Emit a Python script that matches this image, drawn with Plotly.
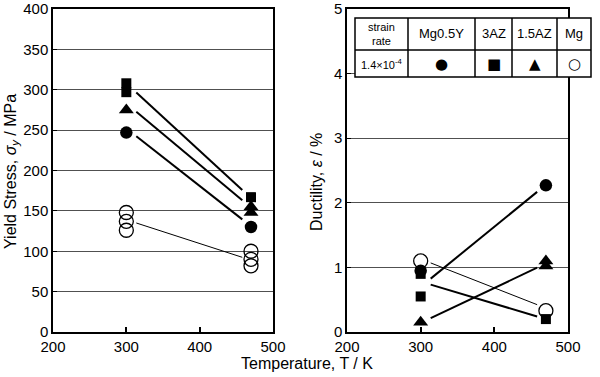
import plotly.graph_objects as go

W, H = 600, 377
FONT = "Liberation Sans, Arial, sans-serif"

# ---------------- data ----------------
temps = [300, 470]                     # test temperatures, K
series_names = ["Mg", "Mg0.5Y", "3AZ", "1.5AZ"]

# Yield stress (MPa): points at 300 K and 470 K
ys_mg_300 = [148, 137, 126]
ys_mg_470 = [100, 90, 82]
ys_mg05y_300 = [247]
ys_mg05y_470 = [130]
ys_3az_300 = [308, 297]
ys_3az_470 = [167]
ys_15az_300 = [275]
ys_15az_470 = [155, 148]
# trend lines (values at 300 K / 470 K)
ys_line_mg = [139, 89]
ys_line_mg05y = [252, 131]
ys_line_3az = [308, 166]
ys_line_15az = [283, 154]

# Ductility (%): points at 300 K and 470 K
du_mg_300 = [1.1]
du_mg_470 = [0.33]
du_mg05y_300 = [0.95]
du_mg05y_470 = [2.27]
du_3az_300 = [0.9, 0.55]
du_3az_470 = [0.2]
du_15az_300 = [0.15]
du_15az_470 = [1.1, 1.02]
# trend lines (values at 300 K / 470 K)
du_line_mg = [1.13, 0.37]
du_line_mg05y = [0.70, 2.28]
du_line_3az = [0.78, 0.20]
du_line_15az = [0.14, 1.06]

x_ticks = [200, 300, 400, 500]
ys_ticks = [0, 50, 100, 150, 200, 250, 300, 350, 400]
du_ticks = [0, 1, 2, 3, 4, 5]

table_header = ["strain<br>rate", "Mg0.5Y", "3AZ", "1.5AZ", "Mg"]
table_row = ["1.4×10<sup>-4</sup>", "●", "■", "▲", "○"]

# ---------------- styles ----------------
marker_style = {
    "Mg": dict(symbol="circle-open", size=14, color="black", line=dict(width=1.3, color="black")),
    "Mg0.5Y": dict(symbol="circle", size=12.5, color="black"),
    "3AZ": dict(symbol="square", size=10, color="black"),
    "1.5AZ": dict(symbol="triangle-up", size=13, color="black"),
}
line_width = {"Mg": 1.0, "Mg0.5Y": 2.0, "3AZ": 2.0, "1.5AZ": 2.0}

ys_points = {"Mg": (ys_mg_300, ys_mg_470), "Mg0.5Y": (ys_mg05y_300, ys_mg05y_470),
             "3AZ": (ys_3az_300, ys_3az_470), "1.5AZ": (ys_15az_300, ys_15az_470)}
ys_lines = {"Mg": ys_line_mg, "Mg0.5Y": ys_line_mg05y, "3AZ": ys_line_3az, "1.5AZ": ys_line_15az}
du_points = {"Mg": (du_mg_300, du_mg_470), "Mg0.5Y": (du_mg05y_300, du_mg05y_470),
             "3AZ": (du_3az_300, du_3az_470), "1.5AZ": (du_15az_300, du_15az_470)}
du_lines = {"Mg": du_line_mg, "Mg0.5Y": du_line_mg05y, "3AZ": du_line_3az, "1.5AZ": du_line_15az}

F0, F1 = 0.08, 0.93   # line gap near markers (fraction of segment)

fig = go.Figure()


def add_panel(points, lines, xa, ya):
    for name in series_names:
        lv = lines[name]
        t0, t1 = temps
        xs = [t0 + F0 * (t1 - t0), t0 + F1 * (t1 - t0)]
        yv = [lv[0] + F0 * (lv[1] - lv[0]), lv[0] + F1 * (lv[1] - lv[0])]
        fig.add_trace(go.Scatter(x=xs, y=yv, mode="lines", xaxis=xa, yaxis=ya,
                                 line=dict(color="black", width=line_width[name]),
                                 showlegend=False, hoverinfo="skip"))
    for name in series_names:
        lo, hi = points[name]
        xs = [temps[0]] * len(lo) + [temps[1]] * len(hi)
        fig.add_trace(go.Scatter(x=xs, y=lo + hi, mode="markers", xaxis=xa, yaxis=ya,
                                 marker=marker_style[name], name=name, showlegend=False,
                                 cliponaxis=False))


add_panel(ys_points, ys_lines, "x", "y")
add_panel(du_points, du_lines, "x2", "y2")


def px(x):
    return x / W


def py(y):
    return 1 - y / H


Y_TOP, Y_BOT = 9, 332
common_x = dict(range=[200, 500], tickvals=x_ticks, showline=True, linecolor="black", linewidth=1.5,
                mirror=True, ticks="inside", ticklen=5, tickwidth=1.5, tickcolor="black",
                showgrid=False, zeroline=False, tickfont=dict(family=FONT, size=15, color="black"),
                automargin=False, ticklabeloverflow="allow")
common_y = dict(showline=True, linecolor="black", linewidth=1.5, mirror=True, ticks="inside",
                ticklen=4, tickwidth=1, tickcolor="black", showgrid=True, gridcolor="#505050",
                gridwidth=1, zeroline=False, tickfont=dict(family=FONT, size=15, color="black"),
                automargin=False, ticklabeloverflow="allow")

fig.update_layout(
    width=W, height=H, margin=dict(l=0, r=0, t=0, b=0, autoexpand=False),
    paper_bgcolor="white", plot_bgcolor="white",
    font=dict(family=FONT, size=15, color="black"),
    xaxis=dict(common_x, domain=[px(53), px(273)], anchor="y"),
    yaxis=dict(common_y, domain=[py(Y_BOT), py(Y_TOP)], range=[0, 400], tickvals=ys_ticks, anchor="x"),
    xaxis2=dict(common_x, domain=[px(347), px(568)], anchor="y2"),
    yaxis2=dict(common_y, domain=[py(Y_BOT), py(Y_TOP)], range=[0, 5], tickvals=du_ticks, anchor="x2"),
)

ann = []
ann.append(dict(text="Yield Stress, <i>σ</i><sub><i>y</i></sub> / MPa", x=px(11), y=py(172),
                xref="paper", yref="paper", textangle=-90, showarrow=False,
                xanchor="center", yanchor="middle", font=dict(family=FONT, size=16)))
ann.append(dict(text="Ductility, <i>ε</i> / %", x=px(316), y=py(182),
                xref="paper", yref="paper", textangle=-90, showarrow=False,
                xanchor="center", yanchor="middle", font=dict(family=FONT, size=16)))
ann.append(dict(text="Temperature, T / K", x=px(307), y=py(363),
                xref="paper", yref="paper", showarrow=False,
                xanchor="center", yanchor="middle", font=dict(family=FONT, size=16)))

# legend table
cols = [355, 408, 475, 512, 557, 591]
rows = [18, 50, 77]
shapes = [dict(type="rect", xref="paper", yref="paper", x0=px(cols[0]), x1=px(cols[-1]),
               y0=py(rows[0]), y1=py(rows[-1]), fillcolor="white",
               line=dict(color="black", width=1.5), layer="above")]
shapes.append(dict(type="line", xref="paper", yref="paper", x0=px(cols[0]), x1=px(cols[-1]),
                   y0=py(rows[1]), y1=py(rows[1]), line=dict(color="black", width=1.5), layer="above"))
for c in cols[1:-1]:
    shapes.append(dict(type="line", xref="paper", yref="paper", x0=px(c), x1=px(c),
                       y0=py(rows[0]), y1=py(rows[-1]), line=dict(color="black", width=1.5), layer="above"))

for i in range(5):
    cx = (cols[i] + cols[i + 1]) / 2
    hsize = 11 if i == 0 else 13
    ann.append(dict(text=table_header[i], x=px(cx), y=py((rows[0] + rows[1]) / 2), xref="paper",
                    yref="paper", xanchor="center", yanchor="middle", showarrow=False,
                    font=dict(family=FONT, size=hsize)))
    rsize = 11 if i == 0 else 15
    fam = FONT if i == 0 else "DejaVu Sans"
    ann.append(dict(text=table_row[i], x=px(cx), y=py((rows[1] + rows[2]) / 2 + 0.5), xref="paper",
                    yref="paper", xanchor="center", yanchor="middle", showarrow=False,
                    font=dict(family=fam, size=rsize)))

fig.update_layout(annotations=ann, shapes=shapes)
fig.write_html("out.html", config={"displayModeBar": False},
               post_script="document.body.style.margin='0';document.body.style.padding='0';")
